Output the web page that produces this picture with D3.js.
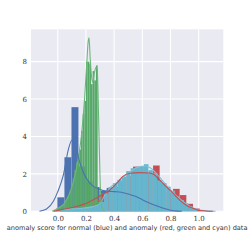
<!DOCTYPE html>
<meta charset="utf-8">
<head>
	<style type="text/css">
		body { margin: 0; background: #fff; }
		.tick text { font-family: "DejaVu Serif", serif; font-size: 7px; fill: #333; }
		.xlabel { font-family: "DejaVu Sans", sans-serif; fill: #333; }
	</style>
	<title>Anomaly score distributions</title>
</head>
<script src="https://cdn.jsdelivr.net/npm/d3@7"></script>

<svg width="249" height="249" id="svg1"></svg>

<script>
	// histogram bins (start, width) and heights
	const blueStart = -0.003, blueWidth = 0.05;
	const blueHist = [0.75, 2.89, 5.57, 2.4, 1.6, 1.3, 1.1, 1.25, 1.0, 1.0, 0.9, 0.6, 0.5, 0.4, 0.3, 0.15, 0.05];

	const redStart = 0.014, redWidth = 0.0473;
	const redHist = [0.1, 0.15, 0.2, 0.35, 0.5, 0.6, 0.95, 1.05, 1.3, 1.6, 1.9, 2.39, 2.1, 2.0, 2.45, 1.5, 1.0, 1.2, 0.87, 0.4, 0.15];

	const greenStart = -0.012, greenWidth = 0.0118;
	const greenHist = [0.15, 0.2, 0.25, 0.3, 0.38, 0.48, 0.62, 0.8, 1.05, 1.35, 1.75, 2.2, 2.6, 3.1, 3.3, 4.3,
		5.2, 5.9, 8.0, 8.0, 7.9, 6.8, 7.5, 7.0, 7.8, 0.5, 0.3];

	const cyanStart = 0.0135, cyanWidth = 0.0315;
	const cyanHist = [0.05, 0.08, 0.1, 0.12, 0.15, 0.18, 0.2, 0.25, 0.3,
		0.5, 0.95, 1.3, 1.5, 1.68, 1.85, 2.15, 2.3, 2.38, 2.42, 2.52, 2.2, 2.05, 1.65, 1.5, 1.32,
		1.1, 0.8, 0.6, 0.43, 0.25, 0.12, 0.05, 0.03, 0.015, 0.01];

	// kde curves [x, density]
	const blueKde = [[-0.13,0],[-0.08,0.12],[-0.03,0.55],[0.0,1.05],[0.04,1.95],[0.075,3.3],[0.1,3.8],[0.115,3.75],
		[0.13,3.4],[0.146,2.9],[0.17,2.3],[0.2,1.8],[0.25,1.35],[0.3,1.17],[0.35,1.08],[0.4,1.05],[0.45,1.02],
		[0.5,0.93],[0.55,0.8],[0.6,0.62],[0.65,0.45],[0.7,0.3],[0.75,0.16],[0.8,0.06],[0.85,0.01],[0.88,0]];
	const redKde = [[-0.03,0],[0.0,0.05],[0.05,0.12],[0.1,0.2],[0.15,0.3],[0.2,0.42],[0.25,0.6],[0.3,0.82],
		[0.37,1.14],[0.42,1.5],[0.46,1.85],[0.51,2.03],[0.58,2.07],[0.65,2.05],[0.68,1.98],[0.72,1.7],[0.77,1.32],
		[0.82,0.96],[0.865,0.6],[0.91,0.34],[0.96,0.16],[1.0,0.05],[1.05,0.02],[1.1,0]];
	const greenKde = [[-0.04,0],[0.0,0.15],[0.05,0.45],[0.1,1.3],[0.13,2.2],[0.15,3.0],[0.17,4.2],[0.19,6.0],
		[0.205,7.8],[0.215,9.0],[0.222,9.27],[0.23,8.2],[0.24,7.2],[0.248,6.9],[0.26,7.4],[0.272,7.7],[0.28,7.6],
		[0.29,5.0],[0.3,1.8],[0.31,0.3],[0.33,0]];
	const cyanKde = [[-0.03,0],[0.05,0.1],[0.15,0.15],[0.25,0.25],[0.3,0.4],[0.33,0.8],[0.37,1.25],[0.42,1.55],
		[0.47,1.85],[0.52,2.15],[0.57,2.35],[0.62,2.42],[0.67,2.25],[0.72,1.85],[0.77,1.4],[0.82,1.0],[0.87,0.65],
		[0.92,0.35],[0.97,0.15],[1.02,0.05],[1.12,0]];

	const xTicks = [0.0, 0.2, 0.4, 0.6, 0.8, 1.0];
	const yTicks = [0, 2, 4, 6, 8];
	const xLabel = 'anomaly score for normal (blue) and anomaly (red, green and cyan) data';

	const svg1 = d3.select('#svg1');
	const plotL = 31, plotR = 223.3, plotT = 29.3, plotB = 211.3;

	const x = d3.scaleLinear().domain([-0.19, 1.175]).range([plotL, plotR]);
	const y = d3.scaleLinear().domain([0, 9.73]).range([plotB, plotT]);

	svg1.append('rect')
		.attr('x', plotL).attr('y', plotT)
		.attr('width', plotR - plotL).attr('height', plotB - plotT)
		.attr('fill', '#EAEAF2');

	// grid
	svg1.append('g')
		.selectAll('line').data(xTicks).enter().append('line')
			.attr('x1', d => x(d)).attr('x2', d => x(d))
			.attr('y1', plotT).attr('y2', plotB)
			.attr('stroke', '#fff').attr('stroke-width', 1.1);
	svg1.append('g')
		.selectAll('line').data(yTicks).enter().append('line')
			.attr('x1', plotL).attr('x2', plotR)
			.attr('y1', d => y(d)).attr('y2', d => y(d))
			.attr('stroke', '#fff').attr('stroke-width', 1.1);

	const drawHist = (vals, start, width, color, edge) => {
		svg1.append('g')
			.selectAll('rect').data(vals).enter().append('rect')
				.attr('x', (d, i) => x(start + i * width))
				.attr('width', (d, i) => x(start + (i + 1) * width) - x(start + i * width))
				.attr('y', d => y(d))
				.attr('height', d => y(0) - y(d))
				.attr('fill', color)
				.attr('stroke', edge)
				.attr('stroke-width', 0.3);
	}

	drawHist(blueHist, blueStart, blueWidth, '#4C72B0', 'rgba(255,255,255,0.2)');
	drawHist(redHist, redStart, redWidth, '#C44E52', 'rgba(255,255,255,0.2)');
	drawHist(greenHist, greenStart, greenWidth, '#55A868', 'rgba(255,255,255,0.1)');
	drawHist(cyanHist, cyanStart, cyanWidth, '#64B5CD', 'rgba(255,255,255,0.15)');

	const line = d3.line()
		.x(d => x(d[0]))
		.y(d => y(d[1]))
		.curve(d3.curveMonotoneX);

	const kdes = [[cyanKde, '#7cc3d8'], [greenKde, '#6cb77a'], [redKde, '#C44E52'], [blueKde, '#4C72B0']];
	kdes.forEach(k => {
		svg1.append('path')
			.attr('d', line(k[0]))
			.attr('fill', 'none')
			.attr('stroke', k[1])
			.attr('stroke-width', 1.1);
	});

	// axes (labels only, seaborn style)
	svg1.append('g')
		.attr('transform', `translate(0,${plotB})`)
		.call(d3.axisBottom(x).tickValues(xTicks).tickFormat(d3.format('.1f')).tickSize(0).tickPadding(5));
	svg1.append('g')
		.attr('transform', `translate(${plotL},0)`)
		.call(d3.axisLeft(y).tickValues(yTicks).tickFormat(d3.format('d')).tickSize(0).tickPadding(4));
	svg1.selectAll('.domain').remove();

	const lbl = svg1.append('text')
		.attr('class', 'xlabel')
		.attr('x', (plotL + plotR) / 2)
		.attr('y', 229.5)
		.attr('text-anchor', 'middle')
		.style('font-size', '8px')
		.text(xLabel);
	const w = lbl.node().getComputedTextLength();
	lbl.style('font-size', (8 * 241 / w) + 'px');
</script>
